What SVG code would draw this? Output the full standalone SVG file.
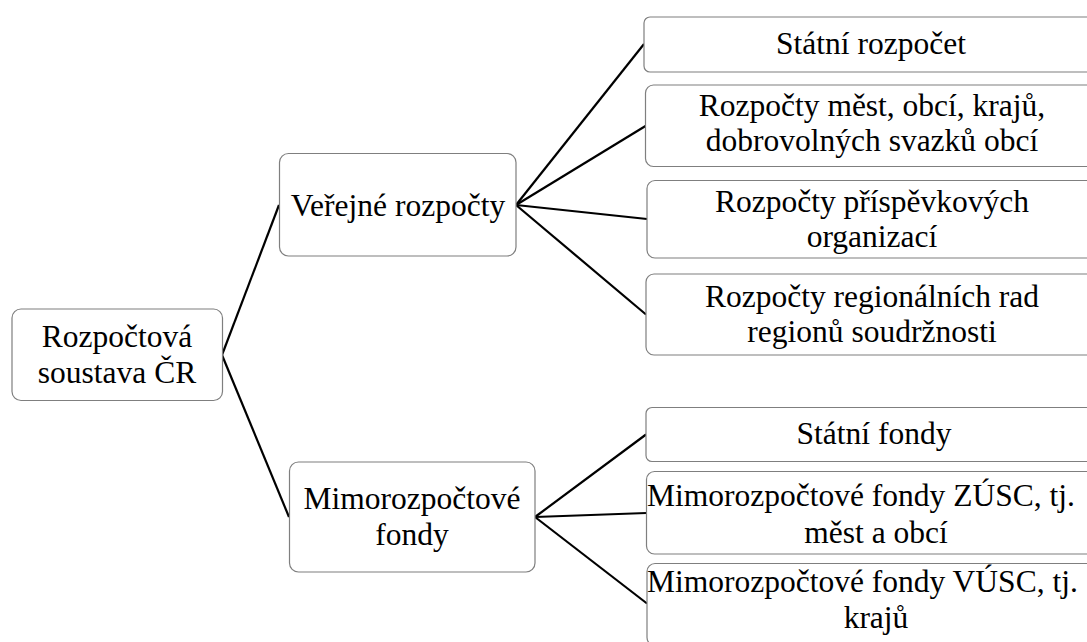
<svg xmlns="http://www.w3.org/2000/svg" width="1087" height="642" viewBox="0 0 1087 642" font-family="'Liberation Serif', Tinos, 'Times New Roman', 'DejaVu Serif', serif">
<style>
text{font-family:'Liberation Serif',Tinos,'Times New Roman','DejaVu Serif',serif;font-size:31.5px;fill:#000}
.box{fill:#fff;stroke:#7f7f7f;stroke-width:1.2}
.t{text-anchor:middle}
.ts{text-anchor:start}
.c{stroke:#000;stroke-width:2.2;fill:none}
</style>
<rect width="1087" height="642" fill="#fff"/>
<g id="connectors">
<line class="c" x1="222" y1="355" x2="279" y2="205"/>
<line class="c" x1="222" y1="355" x2="289" y2="517"/>
<line class="c" x1="516" y1="205" x2="644" y2="44"/>
<line class="c" x1="516" y1="205" x2="645.5" y2="126"/>
<line class="c" x1="516" y1="205" x2="647" y2="219"/>
<line class="c" x1="516" y1="205" x2="646" y2="314.5"/>
<line class="c" x1="535" y1="517" x2="646" y2="434.5"/>
<line class="c" x1="535" y1="517" x2="646.5" y2="513"/>
<line class="c" x1="535" y1="517" x2="647" y2="603.5"/>
</g>
<g id="root">
<rect class="box" x="12" y="309" width="210.5" height="91.5" rx="9"/>
<text class="t" x="117" y="347">Rozpočtová</text>
<text class="t" x="117" y="383">soustava ČR</text>
</g>
<g id="verejne">
<rect class="box" x="279.5" y="153.5" width="236.5" height="102.5" rx="9"/>
<text class="t" x="398" y="215.5">Veřejné rozpočty</text>
</g>
<g id="mimo">
<rect class="box" x="289.5" y="462" width="245.5" height="110" rx="9"/>
<text class="t" x="412" y="509">Mimorozpočtové</text>
<text class="t" x="412" y="545">fondy</text>
</g>
<g id="statni-rozpocet">
<rect class="box" x="644" y="17" width="456" height="55" rx="6"/>
<text class="t" x="871" y="54">Státní rozpočet</text>
</g>
<g id="rozpocty-mest">
<rect class="box" x="645.5" y="85" width="455" height="81.5" rx="8"/>
<text class="t" x="872" y="116">Rozpočty měst, obcí, krajů,</text>
<text class="t" x="872" y="151">dobrovolných svazků obcí</text>
</g>
<g id="rozpocty-prispevkovych">
<rect class="box" x="647" y="180.5" width="453" height="77.5" rx="8"/>
<text class="t" x="872" y="212">Rozpočty příspěvkových</text>
<text class="t" x="872" y="247">organizací</text>
</g>
<g id="rozpocty-regionalnich">
<rect class="box" x="646" y="274" width="454" height="81" rx="8"/>
<text class="t" x="872" y="307">Rozpočty regionálních rad</text>
<text class="t" x="872" y="342">regionů soudržnosti</text>
</g>
<g id="statni-fondy">
<rect class="box" x="646" y="407.5" width="460" height="54" rx="6"/>
<text class="t" x="874" y="444">Státní fondy</text>
</g>
<g id="fondy-zusc">
<rect class="box" x="646.5" y="471.5" width="460" height="82.5" rx="8"/>
<text class="ts" x="647" y="506">Mimorozpočtové fondy ZÚSC, tj.</text>
<text class="t" x="876" y="543">měst a obcí</text>
</g>
<g id="fondy-vusc">
<rect class="box" x="647" y="563.5" width="460" height="82" rx="8"/>
<text class="ts" x="647" y="592">Mimorozpočtové fondy VÚSC, tj.</text>
<text class="t" x="876" y="628">krajů</text>
</g>
</svg>
